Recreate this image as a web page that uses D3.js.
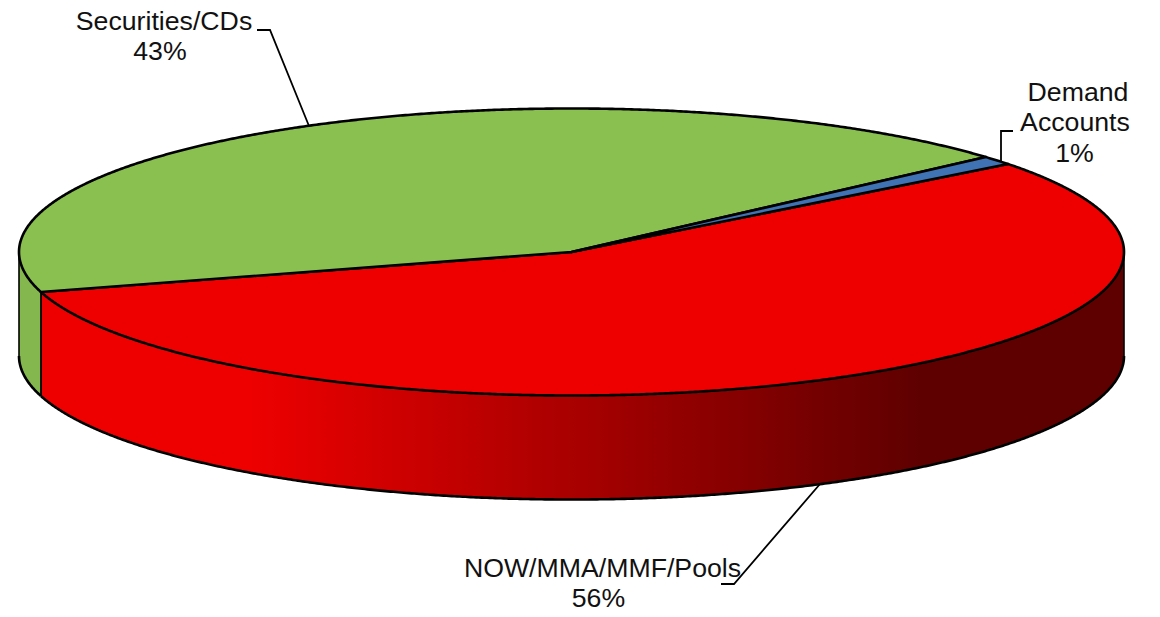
<!DOCTYPE html>
<html>
<head>
<meta charset="utf-8">
<script src="https://cdn.jsdelivr.net/npm/d3@7"></script>
<style>
html,body{margin:0;padding:0;background:#fff;}
svg{display:block;}
text{font-family:"Liberation Sans",Arial,sans-serif;font-size:26.7px;fill:#111;text-anchor:middle;}
</style>
</head>
<body>
<svg id="chart" width="1160" height="617"></svg>
<script>
// Share of funding sources, in percent
const categories = ["NOW/MMA/MMF/Pools", "Securities/CDs", "Demand Accounts"];
const shares = [56, 43, 1];
const sliceColors = ["#EE0000", "#89C04F", "#3F73B3"];
const sideColors = ["url(#redSide)", "#84B84F", "#35608f"];

// Disc geometry
const cx = 571.5, cy = 252, rx = 552.5, ry = 143.5, depth = 104;
const firstAngle = 52.2 * Math.PI / 180;

const svg = d3.select("#chart");

// Side wall of the red slice runs from full red into a deep maroon
const grad = svg.append("defs").append("linearGradient")
  .attr("id", "redSide").attr("gradientUnits", "userSpaceOnUse")
  .attr("x1", 43).attr("x2", 1124).attr("y1", 0).attr("y2", 0);
[[0, "#EE0000"], [0.19, "#EE0000"], [0.81, "#5F0000"], [1, "#5F0000"]].forEach(([o, c]) =>
  grad.append("stop").attr("offset", o).attr("stop-color", c));

const pie = d3.pie().sort(null)
  .startAngle(firstAngle).endAngle(firstAngle + 2 * Math.PI);
const arcs = pie(shares);

// Angle is measured clockwise from twelve o'clock on the tilted disc
const px = a => cx + rx * Math.sin(a);
const py = (a, drop = 0) => cy - ry * Math.cos(a) + drop;
const samples = (a0, a1) => {
  const n = Math.max(2, Math.ceil(Math.abs(a1 - a0) / 0.005));
  return d3.range(n + 1).map(i => a0 + (a1 - a0) * i / n);
};
const line = d3.line();
const stroke = {stroke: "#000", "stroke-width": 2.6, "stroke-linejoin": "round"};
const applyAttrs = (sel, attrs) => { Object.entries(attrs).forEach(([k, v]) => sel.attr(k, v)); return sel; };

// Side wall: only the part of each slice facing the viewer (90deg to 270deg)
const frontFrom = Math.PI / 2, frontTo = 3 * Math.PI / 2;
const wallSpans = [];
arcs.forEach((d, i) => {
  for (const turn of [0, 2 * Math.PI]) {
    const a0 = Math.max(d.startAngle, frontFrom + turn);
    const a1 = Math.min(d.endAngle, frontTo + turn);
    if (a1 > a0) wallSpans.push({a0, a1, i});
  }
});
wallSpans.forEach(({a0, a1, i}) => {
  const pts = samples(a0, a1);
  const top = pts.map(a => [px(a), py(a)]);
  const bottom = pts.slice().reverse().map(a => [px(a), py(a, depth)]);
  svg.append("path").attr("d", line(top.concat(bottom)) + "Z")
    .attr("fill", sideColors[i]).attr("stroke", "none");
  svg.append("path").attr("d", line(pts.map(a => [px(a), py(a, depth)])))
    .attr("fill", "none").call(applyAttrs, stroke);
  // Vertical edges of the wall
  [a0, a1].forEach(a => svg.append("path")
    .attr("d", line([[px(a), py(a)], [px(a), py(a, depth)]]))
    .attr("fill", "none").attr("stroke", "#000")
    .attr("stroke-width", 1.6));
});

// Top face
arcs.forEach((d, i) => {
  const rim = samples(d.startAngle, d.endAngle).map(a => [px(a), py(a)]);
  svg.append("path").attr("d", line([[cx, cy], ...rim]) + "Z")
    .attr("fill", sliceColors[i]).call(applyAttrs, stroke);
});

// Callout labels: name, then the share on the last line
const labelLines = [["NOW/MMA/MMF/Pools"], ["Securities/CDs"], ["Demand", "Accounts"]];
const labelAnchors = [[602.5, 577], [164, 30], [1078, 101]];
const lineShifts = [[0, -4], [0, -4], [0, -3, -3.5]];
const leaders = [
  [[721, 584], [734, 584], [820, 484]],
  [[257, 30], [270, 30], [309, 126]],
  [[1013, 131], [1001, 131], [1001, 161]]
];
categories.forEach((name, i) => {
  const t = svg.append("text");
  labelLines[i].concat(shares[i] + "%").forEach((s, k) =>
    t.append("tspan")
      .attr("x", labelAnchors[i][0] + lineShifts[i][k])
      .attr("y", labelAnchors[i][1] + k * 30.4)
      .text(s));
  svg.append("path").attr("d", line(leaders[i]))
    .attr("fill", "none").attr("stroke", "#000").attr("stroke-width", 1.8);
});
</script>
</body>
</html>
